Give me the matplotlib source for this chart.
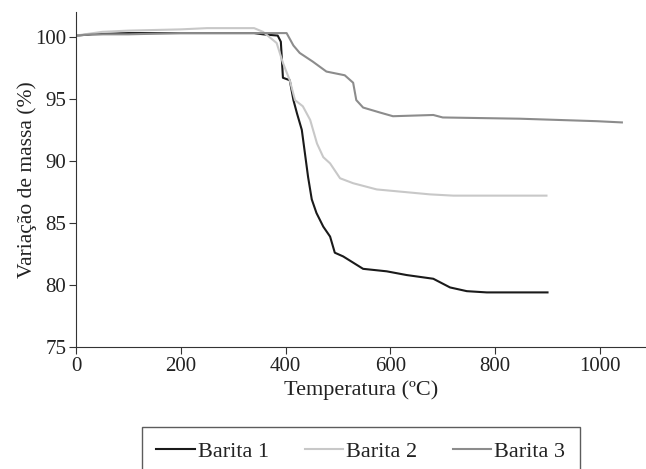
import matplotlib

matplotlib.use("Agg")
import matplotlib.pyplot as plt

plt.rcParams["font.family"] = ["Liberation Serif", "DejaVu Serif"]

# Barita 1 (black)
b1_t = [0, 30, 100, 200, 300, 340, 357, 385, 391, 395, 408, 415, 422, 431, 437,
        443, 450, 459, 472, 485, 494, 510, 529, 548, 593, 631, 682, 714, 746,
        784, 900]
b1_m = [100.1, 100.2, 100.3, 100.3, 100.3, 100.3, 100.2, 100.1, 99.6, 96.7,
        96.5, 94.9, 93.8, 92.5, 90.6, 88.7, 86.9, 85.8, 84.7, 83.9, 82.6, 82.3,
        81.8, 81.3, 81.1, 80.8, 80.5, 79.8, 79.5, 79.4, 79.4]
# Barita 2 (light grey)
b2_t = [0, 50, 100, 200, 250, 340, 357, 383, 395, 408, 418, 433, 447, 460, 472,
        485, 504, 529, 574, 625, 676, 720, 898]
b2_m = [100.1, 100.4, 100.5, 100.6, 100.7, 100.7, 100.4, 99.5, 97.9, 96.5, 94.9,
        94.4, 93.3, 91.4, 90.3, 89.8, 88.6, 88.2, 87.7, 87.5, 87.3, 87.2, 87.2]
# Barita 3 (mid grey)
b3_t = [0, 30, 100, 200, 300, 380, 402, 415, 427, 452, 478, 513, 529, 535, 548,
        580, 605, 682, 700, 847, 994, 1042]
b3_m = [100.1, 100.2, 100.2, 100.3, 100.3, 100.3, 100.3, 99.3, 98.7, 98.0, 97.2,
        96.9, 96.3, 94.9, 94.3, 93.9, 93.6, 93.7, 93.5, 93.4, 93.2, 93.1]

SERIES = [
    ("Barita 1", "#1a1a1a", b1_t, b1_m),
    ("Barita 2", "#c8c8c8", b2_t, b2_m),
    ("Barita 3", "#8c8c8c", b3_t, b3_m),
]


def main():
    fig = plt.figure(figsize=(6.46, 4.69), dpi=100)
    ax = fig.add_axes([76 / 646, 1 - 347 / 469, 570 / 646, 335 / 469])
    for lab, col, t, m in SERIES:
        ax.plot(t, m, color=col, lw=1.5, label=lab)
    ax.set_xlim(0, 1088)
    ax.set_ylim(75, 102)
    ax.set_xticks([0, 200, 400, 600, 800, 1000])
    ax.set_yticks([75, 80, 85, 90, 95, 100])
    for s in ("top", "right"):
        ax.spines[s].set_visible(False)
    for s in ("left", "bottom"):
        ax.spines[s].set_color("#333333")
    ax.tick_params(labelsize=15, direction="out", length=5, color="#333333",
                   colors="#222222", pad=2)
    ax.set_xlabel("Temperatura (ºC)", fontsize=16, labelpad=3, color="#222222")
    ax.set_ylabel("Variação de massa (%)", fontsize=15.5, labelpad=-1.5,
                  color="#222222")
    fig.legend(loc="upper left", bbox_to_anchor=(142 / 646, 1 - 427 / 469),
               ncol=3, fontsize=16, frameon=True, fancybox=False,
               edgecolor="#333333", handlelength=1.73, handletextpad=0.14,
               columnspacing=1.6, borderpad=0.65, borderaxespad=0,
               labelcolor="#222222")
    fig.savefig("out.png", dpi=100)
    plt.close(fig)


if __name__ == "__main__":
    main()
